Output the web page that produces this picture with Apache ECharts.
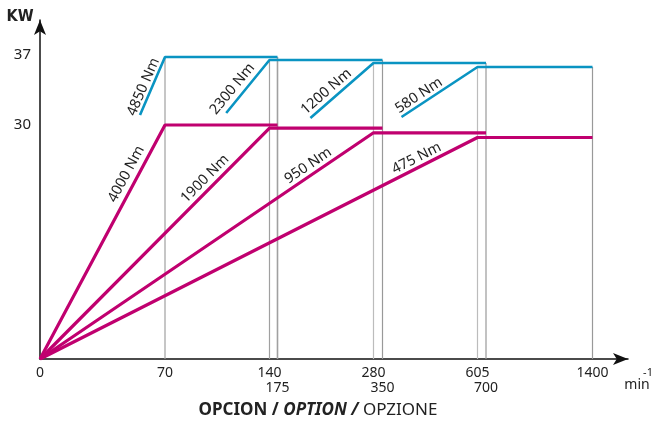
<!DOCTYPE html>
<html>
<head>
<meta charset="utf-8">
<script src="https://cdn.jsdelivr.net/npm/echarts@6/dist/echarts.min.js"></script>
<style>
  html, body { margin: 0; background: #fff; }
  .chart { width: 655px; height: 423px; }
</style>
</head>
<body>
<div class="chart"></div>
<script>
// data
const speedTicks = [0, 70, 140, 175, 280, 350, 605, 700, 1400];
const powerTicks = [30, 37];
const baseSpeed = [70, 140, 280, 605];
const maxSpeed = [175, 350, 700, 1400];
const torqueS1 = ['4000 Nm', '1900 Nm', '950 Nm', '475 Nm'];
const powerS1 = [30, 29.6, 29.0, 28.4];
const torqueS6 = ['4850 Nm', '2300 Nm', '1200 Nm', '580 Nm'];
const powerS6 = [36.8, 36.5, 36.2, 35.8];
const s6StartSpeed = [56, 111, 211, 401];
const s6StartPower = [31.0, 31.2, 30.7, 30.8];

// the drawing is schematic: both axes are stretched piecewise
const xStops = [0, 125, 229.5, 237.5, 333.5, 342.5, 437.5, 446, 552.5];
const yFrom = [0, 30, 37];
const yStops = [0, 234, 304];

function piece(v, from, to) {
  let i = 0;
  while (i < from.length - 2 && v > from[i + 1]) i++;
  const k = (v - from[i]) / (from[i + 1] - from[i]);
  return to[i] + k * (to[i + 1] - to[i]);
}
const sx = (v) => piece(v, speedTicks, xStops);
const sy = (v) => piece(v, yFrom, yStops);

const FONT = "'Noto Sans', 'Open Sans', sans-serif";
const MAGENTA = '#c0006f';
const CYAN = '#0a94c2';

const series = [];

// thin guide lines
baseSpeed.forEach((b, i) => {
  [b, maxSpeed[i]].forEach((s, j) => {
    series.push({
      type: 'line',
      data: [[sx(s), 0], [sx(s), sy(powerS6[i])]],
      symbol: 'none',
      silent: true,
      lineStyle: { color: j === 0 && i > 1 ? '#bcbcbc' : (j === 1 && i > 0 ? '#999' : '#a0a0a0'), width: j === 1 && i === 0 ? 1.6 : 1.2 },
      z: 1,
    });
  });
});

baseSpeed.forEach((b, i) => {
  series.push({
    type: 'line',
    data: [[0, 0], [sx(b), sy(powerS1[i])], [sx(maxSpeed[i]), sy(powerS1[i])]],
    symbol: 'none',
    lineStyle: { color: MAGENTA, width: 3.2 },
    z: 3,
  });
  series.push({
    type: 'line',
    data: [[sx(s6StartSpeed[i]), sy(s6StartPower[i])], [sx(b), sy(powerS6[i])], [sx(maxSpeed[i]), sy(powerS6[i])]],
    symbol: 'none',
    lineStyle: { color: CYAN, width: 2.6 },
    z: 4,
  });
});

const lowerRow = [175, 350, 700];

const chart = echarts.init(document.querySelector('.chart'));
chart.setOption({
  animation: false,
  grid: { left: 40, right: 27, top: 20, bottom: 64 },
  xAxis: {
    type: 'value',
    min: 0,
    max: 588,
    splitLine: { show: false },
    axisTick: { show: false },
    axisLine: {
      onZero: false,
      symbol: ['none', 'arrow'],
      symbolSize: [9, 15],
      lineStyle: { color: '#111', width: 1.5 },
    },
    axisLabel: {
      customValues: speedTicks.map(sx),
      margin: 7,
      fontSize: 14,
      lineHeight: 15,
      color: '#222',
      fontFamily: FONT,
      formatter: (v) => {
        const s = speedTicks.find((t) => Math.abs(sx(t) - v) < 0.01);
        return lowerRow.includes(s) ? '\n' + s : String(s);
      },
    },
  },
  yAxis: {
    type: 'value',
    min: 0,
    max: 339,
    splitLine: { show: false },
    axisTick: { show: false },
    axisLine: {
      onZero: false,
      symbol: ['none', 'arrow'],
      symbolSize: [9, 15],
      lineStyle: { color: '#111', width: 1.5 },
    },
    axisLabel: {
      customValues: powerTicks.map(sy),
      margin: 9,
      fontSize: 15,
      color: '#222',
      fontFamily: FONT,
      formatter: (v) => String(powerTicks.find((t) => Math.abs(sy(t) - v) < 0.01)),
    },
  },
  series,
});

// rotated torque labels along the ramps
function rampLabel(p0, p1, text, t, off) {
  const a = chart.convertToPixel({ gridIndex: 0 }, p0);
  const b = chart.convertToPixel({ gridIndex: 0 }, p1);
  const len = Math.hypot(b[0] - a[0], b[1] - a[1]);
  const dx = (b[0] - a[0]) / len;
  const dy = (b[1] - a[1]) / len;
  return {
    type: 'text',
    x: a[0] + dx * len * t + dy * off,
    y: a[1] + dy * len * t - dx * off,
    rotation: Math.atan2(-dy, dx),
    style: { text, font: `14.5px ${FONT}`, fill: '#222', align: 'center', verticalAlign: 'middle' },
    z: 10,
  };
}

const s1Pos = [[0.768, 11], [0.75, 10], [0.82, 9.5], [0.87, 9]];
const s6Pos = [[0.43, 8], [0.33, 10.5], [0.35, 9.5], [0.29, 8.5]];
const graphics = [];
baseSpeed.forEach((b, i) => {
  graphics.push(rampLabel([0, 0], [sx(b), sy(powerS1[i])], torqueS1[i], s1Pos[i][0], s1Pos[i][1]));
  graphics.push(rampLabel([sx(s6StartSpeed[i]), sy(s6StartPower[i])], [sx(b), sy(powerS6[i])], torqueS6[i], s6Pos[i][0], s6Pos[i][1]));
});

graphics.push(
  {
    type: 'text', x: 20, y: 17,
    style: { text: 'KW', font: "bold 16px 'Liberation Sans Narrow', 'DejaVu Sans Condensed', sans-serif", fill: '#222', align: 'center', verticalAlign: 'middle' },
  },
  {
    type: 'text', x: 637, y: 385,
    style: { text: 'min', font: `14px ${FONT}`, fill: '#222', align: 'center', verticalAlign: 'middle' },
  },
  {
    type: 'text', x: 648, y: 373,
    style: { text: '-1', font: `11px ${FONT}`, fill: '#222', align: 'center', verticalAlign: 'middle' },
  },
  {
    type: 'text', x: 318, y: 410,
    style: {
      text: '{b|OPCION / }{bi|OPTION / }{r|OPZIONE}',
      align: 'center',
      verticalAlign: 'middle',
      fill: '#222',
      rich: {
        b: { fontFamily: FONT, fontSize: 17, fontWeight: 'bold', fill: '#222' },
        bi: { fontFamily: FONT, fontSize: 17, fontWeight: 'bold', fontStyle: 'italic', fill: '#222' },
        r: { fontFamily: FONT, fontSize: 17, fill: '#222' },
      },
    },
  }
);

chart.setOption({ graphic: graphics });
</script>
</body>
</html>
